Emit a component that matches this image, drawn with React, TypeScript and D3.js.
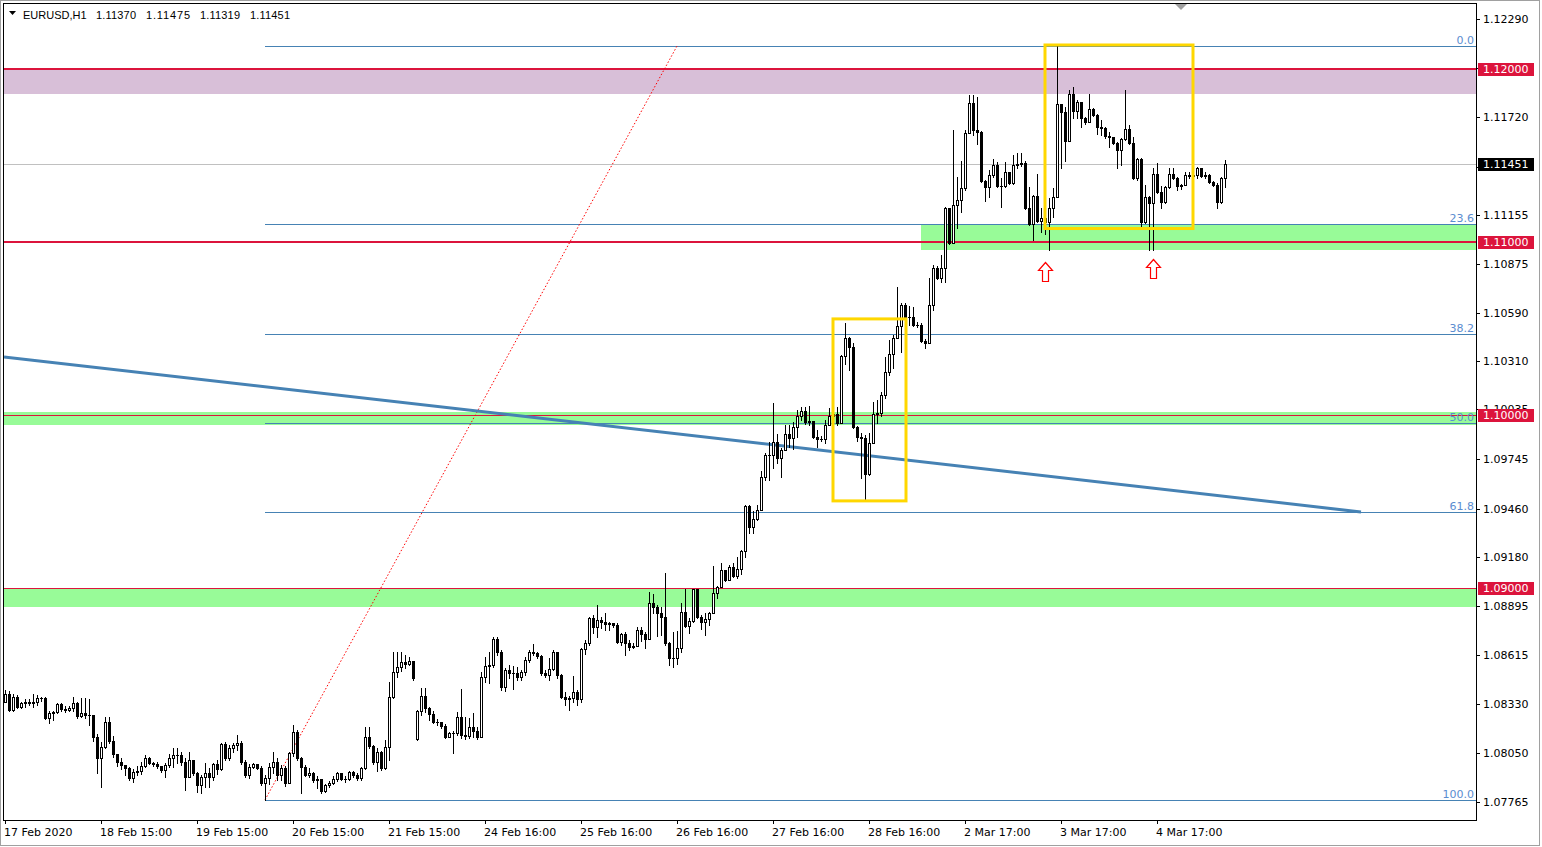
import React, { useEffect } from "react";
import * as d3 from "d3";

// ---------- DATA (EURUSD H1) ----------
const firstOpen = 1.08345;
const gapOpens: Record<number, number> = { 103: 1.08129 };

const closes = [
  1.08389, 1.08297, 1.08372, 1.08314, 1.08337, 1.08343, 1.08337, 1.08343, 1.08366, 1.08366,
  1.08251, 1.0828, 1.08285, 1.08331, 1.08303, 1.08297, 1.08308, 1.08337, 1.08262, 1.0828,
  1.08268, 1.08268, 1.08141, 1.0802, 1.08083, 1.08227, 1.08118, 1.08043, 1.07996, 1.07979,
  1.07962, 1.07904, 1.07938, 1.07944, 1.07973, 1.0802, 1.07991, 1.07985, 1.07973, 1.0795,
  1.07979, 1.0802, 1.08037, 1.08037, 1.07996, 1.0791, 1.08008, 1.07933, 1.07864, 1.0791,
  1.07933, 1.0791, 1.07985, 1.07956, 1.081, 1.0802, 1.08077, 1.08095, 1.08106, 1.07996,
  1.07921, 1.07968, 1.07985, 1.07962, 1.07875, 1.07904, 1.07968, 1.07996, 1.07921, 1.07962,
  1.07875, 1.08049, 1.08169, 1.0802, 1.07968, 1.07921, 1.07933, 1.07893, 1.07898, 1.07829,
  1.07864, 1.07875, 1.07898, 1.07933, 1.07898, 1.07898, 1.07938, 1.07921, 1.07904, 1.07962,
  1.08141, 1.08089, 1.07996, 1.08054, 1.07962, 1.08083, 1.08372, 1.08516, 1.08545, 1.08574,
  1.08562, 1.0858, 1.08482, 1.08291, 1.08377, 1.08308, 1.08274, 1.08227, 1.08227, 1.08204,
  1.08141, 1.08164, 1.08164, 1.08257, 1.08152, 1.08146, 1.08199, 1.08175, 1.08141, 1.08488,
  1.08551, 1.08557, 1.08707, 1.08631, 1.0843, 1.08528, 1.08511, 1.08511, 1.08488, 1.08516,
  1.08586, 1.08631, 1.08626, 1.08608, 1.08511, 1.08499, 1.08534, 1.08631, 1.08499, 1.08372,
  1.0836, 1.08366, 1.084, 1.0836, 1.08649, 1.08684, 1.08828, 1.08776, 1.08817, 1.08805,
  1.08793, 1.08799, 1.08788, 1.08689, 1.08736, 1.08684, 1.08661, 1.08666, 1.08759, 1.08736,
  1.08707, 1.08915, 1.08892, 1.08857, 1.08834, 1.08684, 1.08597, 1.08597, 1.08655, 1.08862,
  1.08782, 1.08811, 1.08996, 1.08834, 1.08805, 1.08822, 1.08857, 1.08973, 1.09007, 1.09105,
  1.09048, 1.09123, 1.0907, 1.09111, 1.09215, 1.09475, 1.09354, 1.094, 1.09452, 1.09643,
  1.09769, 1.09769, 1.09844, 1.09752, 1.09798, 1.09891, 1.09868, 1.09931, 1.09994, 1.10023,
  1.0996, 1.09966, 1.09874, 1.09862, 1.09862, 1.09943, 1.09994, 1.10006, 1.09954, 1.10341,
  1.10445, 1.10393, 1.09931, 1.09874, 1.09868, 1.0966, 1.09839, 1.10006, 1.10012, 1.10116,
  1.10248, 1.10353, 1.10445, 1.10514, 1.10636, 1.10567, 1.10567, 1.1052, 1.1052, 1.10428,
  1.10416, 1.10636, 1.10849, 1.10792, 1.10849, 1.11196, 1.10994, 1.11213, 1.11242, 1.11311,
  1.11629, 1.11802, 1.11646, 1.11634, 1.11352, 1.11317, 1.11386, 1.11444, 1.11323, 1.11323,
  1.11403, 1.1134, 1.11444, 1.1145, 1.11456, 1.11196, 1.11103, 1.11265, 1.11121, 1.11138,
  1.11115, 1.11196, 1.1126, 1.11796, 1.1175, 1.11583, 1.11854, 1.11756, 1.11808, 1.11716,
  1.11692, 1.11768, 1.11733, 1.11664, 1.11658, 1.11611, 1.11606, 1.11571, 1.11531, 1.11594,
  1.11652, 1.11571, 1.11369, 1.11479, 1.11115, 1.1126, 1.11225, 1.11392, 1.11288, 1.1123,
  1.11317, 1.11392, 1.11369, 1.11323, 1.11329, 1.11386, 1.1138, 1.11386, 1.11427, 1.1138,
  1.11386, 1.11346, 1.11329, 1.1123, 1.1137, 1.11451,
];

const highs = [
  1.08412, 1.08406, 1.08389, 1.08383, 1.08345, 1.0836, 1.0836, 1.08389, 1.08383, 1.08372,
  1.08372, 1.08291, 1.08291, 1.08337, 1.08337, 1.0832, 1.0832, 1.08372, 1.08343, 1.08366,
  1.08366, 1.0836, 1.08262, 1.08158, 1.08112, 1.08257, 1.08257, 1.08146, 1.08043, 1.0802,
  1.07973, 1.07968, 1.07956, 1.07973, 1.07996, 1.08037, 1.08026, 1.07996, 1.07996, 1.07973,
  1.07991, 1.08043, 1.08077, 1.08077, 1.08054, 1.0802, 1.08054, 1.08008, 1.07938, 1.07921,
  1.07991, 1.07962, 1.07991, 1.08008, 1.08106, 1.08112, 1.08095, 1.08106, 1.08152, 1.08118,
  1.08008, 1.07985, 1.07991, 1.07985, 1.07973, 1.07921, 1.07991, 1.08054, 1.0802, 1.07979,
  1.07973, 1.08054, 1.0821, 1.08181, 1.08026, 1.07979, 1.07962, 1.07938, 1.07915, 1.07898,
  1.07869, 1.07887, 1.07915, 1.07938, 1.07933, 1.07915, 1.07944, 1.07944, 1.07933, 1.07968,
  1.08199, 1.08199, 1.08095, 1.08077, 1.0806, 1.08124, 1.08458, 1.08631, 1.08631, 1.08631,
  1.08614, 1.08603, 1.0858, 1.08297, 1.08424, 1.08424, 1.08314, 1.08291, 1.08245, 1.08222,
  1.08216, 1.08169, 1.08175, 1.08285, 1.08418, 1.08257, 1.08251, 1.0828, 1.08199, 1.08516,
  1.08603, 1.08631, 1.08719, 1.08719, 1.08643, 1.08539, 1.08557, 1.08551, 1.08545, 1.08528,
  1.08603, 1.08643, 1.08678, 1.08631, 1.08614, 1.08528, 1.08597, 1.08643, 1.08631, 1.08505,
  1.084, 1.08377, 1.08493, 1.08412, 1.08655, 1.08701, 1.08834, 1.08845, 1.08903, 1.08834,
  1.08857, 1.08805, 1.08799, 1.08799, 1.08742, 1.08747, 1.08701, 1.08684, 1.08776, 1.08776,
  1.08747, 1.08978, 1.08967, 1.08903, 1.08892, 1.09088, 1.08689, 1.08747, 1.08753, 1.08915,
  1.08996, 1.08828, 1.08996, 1.08996, 1.08845, 1.08857, 1.08862, 1.09128, 1.09013, 1.09146,
  1.09105, 1.09134, 1.09146, 1.09181, 1.09221, 1.09481, 1.09481, 1.09446, 1.09481, 1.09677,
  1.09781, 1.09844, 1.1007, 1.09891, 1.0981, 1.09943, 1.09943, 1.0996, 1.10029, 1.10047,
  1.10047, 1.10052, 1.09966, 1.09914, 1.09879, 1.09972, 1.10041, 1.10058, 1.10047, 1.10347,
  1.10532, 1.10451, 1.10416, 1.09937, 1.09897, 1.09885, 1.09897, 1.10075, 1.10087, 1.10133,
  1.10336, 1.10434, 1.10462, 1.1074, 1.10647, 1.10647, 1.1063, 1.10624, 1.10537, 1.10532,
  1.10439, 1.10792, 1.10867, 1.10861, 1.10924, 1.11202, 1.11196, 1.11646, 1.11375, 1.11467,
  1.11646, 1.11848, 1.11848, 1.11837, 1.1164, 1.11358, 1.11415, 1.11479, 1.11461, 1.11369,
  1.11461, 1.11403, 1.11502, 1.11514, 1.11514, 1.11467, 1.11317, 1.11271, 1.11392, 1.11196,
  1.11184, 1.11254, 1.11311, 1.12131, 1.11796, 1.11779, 1.11877, 1.11895, 1.1182, 1.11808,
  1.11722, 1.11854, 1.11773, 1.11739, 1.11704, 1.11664, 1.11634, 1.116, 1.11577, 1.116,
  1.11877, 1.11675, 1.11606, 1.11485, 1.11485, 1.11329, 1.11265, 1.11427, 1.11456, 1.11323,
  1.11323, 1.11427, 1.11427, 1.11375, 1.11334, 1.11403, 1.11403, 1.11403, 1.11433, 1.11427,
  1.11403, 1.11392, 1.11352, 1.1134, 1.11375, 1.11475,
];

const lows = [
  1.08343, 1.08291, 1.08291, 1.08308, 1.08308, 1.08314, 1.08326, 1.08314, 1.08326, 1.08349,
  1.08245, 1.08222, 1.08239, 1.0828, 1.08291, 1.08285, 1.08291, 1.08291, 1.08251, 1.08257,
  1.08251, 1.0821, 1.08118, 1.07933, 1.07852, 1.08077, 1.08106, 1.08026, 1.07973, 1.07956,
  1.07921, 1.07893, 1.07881, 1.07921, 1.07927, 1.07968, 1.07985, 1.07973, 1.07962, 1.07938,
  1.0791, 1.07968, 1.07968, 1.07991, 1.07979, 1.07835, 1.0791, 1.07921, 1.07823, 1.07818,
  1.07852, 1.07852, 1.07893, 1.07927, 1.0795, 1.08008, 1.08008, 1.08054, 1.08066, 1.07985,
  1.0791, 1.07904, 1.07962, 1.07956, 1.07864, 1.07777, 1.07869, 1.07933, 1.07893, 1.07893,
  1.07858, 1.07875, 1.08031, 1.08008, 1.07818, 1.07915, 1.0791, 1.07881, 1.07846, 1.07818,
  1.07823, 1.07852, 1.07869, 1.07887, 1.07893, 1.07881, 1.07893, 1.0791, 1.07893, 1.07893,
  1.07956, 1.08077, 1.07985, 1.07944, 1.0795, 1.07956, 1.08008, 1.08366, 1.08488, 1.08522,
  1.08539, 1.08557, 1.0847, 1.08124, 1.08268, 1.08285, 1.08239, 1.08222, 1.0821, 1.08193,
  1.08135, 1.08141, 1.08049, 1.08152, 1.08135, 1.08129, 1.08135, 1.08141, 1.08129, 1.08141,
  1.08458, 1.08453, 1.08545, 1.08614, 1.08412, 1.08406, 1.08482, 1.08418, 1.0847, 1.0847,
  1.08499, 1.08574, 1.08614, 1.08597, 1.08499, 1.08488, 1.0847, 1.08528, 1.08482, 1.08366,
  1.08326, 1.08297, 1.08345, 1.08326, 1.08345, 1.0862, 1.08672, 1.08742, 1.08719, 1.0877,
  1.08759, 1.08759, 1.08776, 1.08684, 1.08672, 1.08614, 1.08643, 1.08655, 1.08666, 1.08695,
  1.08655, 1.08707, 1.08857, 1.08724, 1.0873, 1.08672, 1.08557, 1.08545, 1.08562, 1.08631,
  1.08776, 1.08742, 1.08805, 1.08828, 1.08765, 1.0873, 1.08788, 1.08862, 1.08944, 1.09007,
  1.0904, 1.09048, 1.09065, 1.09059, 1.09082, 1.09181, 1.09319, 1.09319, 1.09394, 1.09452,
  1.09625, 1.09625, 1.09694, 1.09723, 1.09643, 1.09798, 1.09816, 1.09804, 1.09874, 1.09972,
  1.09948, 1.09943, 1.09868, 1.09816, 1.0985, 1.09839, 1.09943, 1.09972, 1.09943, 1.09954,
  1.10295, 1.1026, 1.09925, 1.0985, 1.09637, 1.09515, 1.09654, 1.09839, 1.09954, 1.09994,
  1.10099, 1.10231, 1.10272, 1.10445, 1.10364, 1.10561, 1.1052, 1.10514, 1.10509, 1.10422,
  1.10387, 1.10416, 1.10607, 1.10786, 1.10768, 1.10768, 1.10988, 1.11086, 1.1108, 1.11172,
  1.113, 1.11629, 1.11617, 1.11565, 1.11346, 1.11236, 1.1126, 1.11375, 1.11317, 1.11202,
  1.11317, 1.11334, 1.11334, 1.11427, 1.11438, 1.1119, 1.11098, 1.11011, 1.11115, 1.11057,
  1.11046, 1.10953, 1.11144, 1.11271, 1.11427, 1.11467, 1.11583, 1.11716, 1.11716, 1.11664,
  1.11681, 1.11716, 1.11727, 1.11623, 1.11617, 1.116, 1.11548, 1.11565, 1.11427, 1.11444,
  1.11589, 1.11565, 1.11363, 1.11358, 1.11092, 1.11109, 1.10953, 1.10953, 1.11283, 1.11196,
  1.11225, 1.11311, 1.11363, 1.113, 1.11306, 1.11334, 1.11369, 1.11363, 1.11369, 1.11375,
  1.11369, 1.1134, 1.11323, 1.11196, 1.11225, 1.11319,
];

const timeLabels = [
  { bar: 0, text: "17 Feb 2020" }, { bar: 24, text: "18 Feb 15:00" }, { bar: 48, text: "19 Feb 15:00" },
  { bar: 72, text: "20 Feb 15:00" }, { bar: 96, text: "21 Feb 15:00" }, { bar: 120, text: "24 Feb 16:00" },
  { bar: 144, text: "25 Feb 16:00" }, { bar: 168, text: "26 Feb 16:00" }, { bar: 192, text: "27 Feb 16:00" },
  { bar: 216, text: "28 Feb 16:00" }, { bar: 240, text: "2 Mar 17:00" }, { bar: 264, text: "3 Mar 17:00" },
  { bar: 288, text: "4 Mar 17:00" },
];

const priceTicks = [
  "1.12290", "1.12005", "1.11720", "1.11435", "1.11155", "1.10875", "1.10590", "1.10310", "1.10035",
  "1.09745", "1.09460", "1.09180", "1.08895", "1.08615", "1.08330", "1.08050", "1.07765",
];

const levelLines = [
  { price: 1.12, width: 2 }, { price: 1.11, width: 2 }, { price: 1.1, width: 1 }, { price: 1.09, width: 1 },
];
const zones = [
  { top: 1.12, bottom: 1.11854, startBar: null as number | null, color: "#D8BFD8" },
  { top: 1.11103, bottom: 1.10953, startBar: 229, color: "#98FB98" },
  { top: 1.10019, bottom: 1.09943, startBar: null, color: "#98FB98" },
  { top: 1.09, bottom: 1.08892, startBar: null, color: "#98FB98" },
];

const fibHigh = 1.12131;
const fibLow = 1.07777;
const fibStartBar = 65;
const fibEndBar = 168;
const fibLevels = [0, 23.6, 38.2, 50, 61.8, 100];

const trendLine = [ { bar: -0.25, price: 1.10335 }, { bar: 339, price: 1.0944 } ];
const boxes = [
  { from: 207, to: 225.25, top: 1.10555, bottom: 1.09504 },
  { from: 260, to: 297, top: 1.12137, bottom: 1.11077 },
];
const arrows = [ { bar: 260, price: 1.10884 }, { bar: 287, price: 1.10901 } ];
const markedLevels = [1.12, 1.11, 1.1, 1.09];

const symbolLabel = "EURUSD,H1";
const ohlcLabels = ["1.11370", "1.11475", "1.11319", "1.11451"];

// ---------- LAYOUT ----------
const W = 1542, H = 847;
const L = 3, T = 3, R = 1476, B = 820;
const AXIS_FONT = "'DejaVu Sans', Verdana, sans-serif";
const HEAD_FONT = "'Liberation Sans', Arial, sans-serif";
const ohlcX = [96, 146, 200, 250];

export default function App() {
  useEffect(() => { document.body.style.margin = "0"; }, []);

  const x = d3.scaleLinear().domain([0, 305]).range([5, 1225]);
  const y = d3.scaleLinear().domain([1.07765, 1.1229]).range([802, 18.5]);
  const ry = (p: number) => Math.round(y(p));

  const candles = closes.map((c, i) => {
    const o = i === 0 ? firstOpen : gapOpens[i] ?? closes[i - 1];
    const h = Math.max(highs[i], o, c);
    const l = Math.min(lows[i], o, c);
    const cx = Math.round(x(i));
    const yt = ry(Math.max(o, c));
    const yb = ry(Math.min(o, c));
    const bull = c > o;
    return (
      <g key={i}>
        <rect x={cx} y={ry(h)} width={1} height={ry(l) - ry(h) + 1} fill="#000" />
        <rect x={cx - 1} y={yt} width={3} height={yb - yt + 1} fill="#000" />
        {bull && yb - yt >= 2 && <rect x={cx} y={yt + 1} width={1} height={yb - yt - 1} fill="#fff" />}
      </g>
    );
  });

  const fibRange = fibHigh - fibLow;
  const fibX0 = Math.round(x(fibStartBar));

  const trendPath = d3.line<{ bar: number; price: number }>().x((d) => x(d.bar)).y((d) => y(d.price))(trendLine) || "";

  const arrowPath = (cx: number, ty: number) => {
    const pts = [
      [cx, ty], [cx + 7, ty + 8], [cx + 3, ty + 8], [cx + 3, ty + 19], [cx - 3, ty + 19], [cx - 3, ty + 8], [cx - 7, ty + 8],
    ];
    return "M" + pts.map((p) => p.join(",")).join("L") + "Z";
  };

  const lastPrice = closes[closes.length - 1];

  return (
    <div style={{ position: "absolute", left: 0, top: 0 }}>
      <svg width={W} height={H} style={{ display: "block", background: "#fff" }}>
        <defs>
          <clipPath id="plot"><rect x={L + 1} y={T + 1} width={R - L - 1} height={B - T - 1} /></clipPath>
        </defs>
        <rect x={0} y={0} width={W} height={H} fill="#fff" />
        <g clipPath="url(#plot)">
          {zones.map((z, i) => (
            <rect key={i} x={z.startBar === null ? L : Math.round(x(z.startBar))} y={ry(z.top)}
              width={R - (z.startBar === null ? L : Math.round(x(z.startBar)))} height={ry(z.bottom) - ry(z.top)} fill={z.color} />
          ))}
          <rect x={L} y={ry(lastPrice)} width={R - L} height={1} fill="#C0C0C0" />
          {levelLines.map((l, i) => (
            <rect key={i} x={L} y={ry(l.price) - (l.width > 1 ? 1 : 0)} width={R - L} height={l.width} fill="#DC143C" />
          ))}
          {fibLevels.map((lv) => {
            const p = fibHigh - (fibRange * lv) / 100;
            return (
              <g key={lv}>
                <rect x={fibX0} y={ry(p)} width={R - fibX0} height={1} fill="#4682B4" />
                <text x={R - 2} y={ry(p) - 2} textAnchor="end" fontFamily={AXIS_FONT} fontSize={11} fill="#5B8DD0">
                  {lv.toFixed(1)}
                </text>
              </g>
            );
          })}
          <line x1={x(fibStartBar)} y1={y(fibLow)} x2={x(fibEndBar)} y2={y(fibHigh)} stroke="#FF0000" strokeWidth={1} strokeDasharray="1.5 2" />
          <path d={trendPath} stroke="#4682B4" strokeWidth={3} fill="none" />
          <g shapeRendering="crispEdges">{candles}</g>
          {boxes.map((b, i) => (
            <rect key={i} x={x(b.from)} y={y(b.top)} width={x(b.to) - x(b.from)} height={y(b.bottom) - y(b.top)}
              fill="none" stroke="#FFD700" strokeWidth={3} />
          ))}
          {arrows.map((a, i) => (
            <path key={i} d={arrowPath(Math.round(x(a.bar)) + 0.5, ry(a.price) + 0.5)} fill="#fff" stroke="#FF0000" strokeWidth={1.2} />
          ))}
          <path d="M1175,4 L1187,4 L1181,10 Z" fill="#A0A0A0" />
        </g>

        {/* header */}
        <path d="M9,11 L16,11 L12.5,15 Z" fill="#000" />
        <text x={23} y={19} fontFamily={HEAD_FONT} fontSize={11} fill="#000">{symbolLabel}</text>
        {ohlcLabels.map((t, i) => (
          <text key={i} x={ohlcX[i]} y={19} fontFamily={HEAD_FONT} fontSize={11} fill="#000" textLength={i === 1 ? 44 : 40}>{t}</text>
        ))}

        {/* frame */}
        <rect x={L + 0.5} y={T + 0.5} width={R - L} height={B - T} fill="none" stroke="#000" strokeWidth={1} />
        <rect x={0.5} y={0.5} width={W - 3} height={H - 2} fill="none" stroke="#A0A0A0" strokeWidth={1} />

        {/* price axis */}
        {priceTicks.map((t) => {
          const yy = ry(parseFloat(t));
          return (
            <g key={t}>
              <rect x={R} y={yy} width={4} height={1} fill="#000" />
              <text x={1483} y={yy + 4} fontFamily={AXIS_FONT} fontSize={11} fill="#000">{t}</text>
            </g>
          );
        })}
        {markedLevels.map((p) => (
          <g key={p}>
            <rect x={R + 2} y={ry(p) - 6} width={56} height={13} fill="#DC143C" />
            <text x={1483} y={ry(p) + 4} fontFamily={AXIS_FONT} fontSize={11} fill="#fff">{p.toFixed(5)}</text>
          </g>
        ))}
        <rect x={R + 2} y={ry(lastPrice) - 6} width={56} height={13} fill="#000" />
        <text x={1483} y={ry(lastPrice) + 4} fontFamily={AXIS_FONT} fontSize={11} fill="#fff">{lastPrice.toFixed(5)}</text>

        {/* time axis */}
        {timeLabels.map((t) => {
          const xx = Math.round(x(t.bar));
          return (
            <g key={t.bar}>
              <rect x={xx} y={B} width={1} height={4} fill="#000" />
              <text x={xx - 1} y={836} fontFamily={AXIS_FONT} fontSize={11} fill="#000">{t.text}</text>
            </g>
          );
        })}
      </svg>
    </div>
  );
}
